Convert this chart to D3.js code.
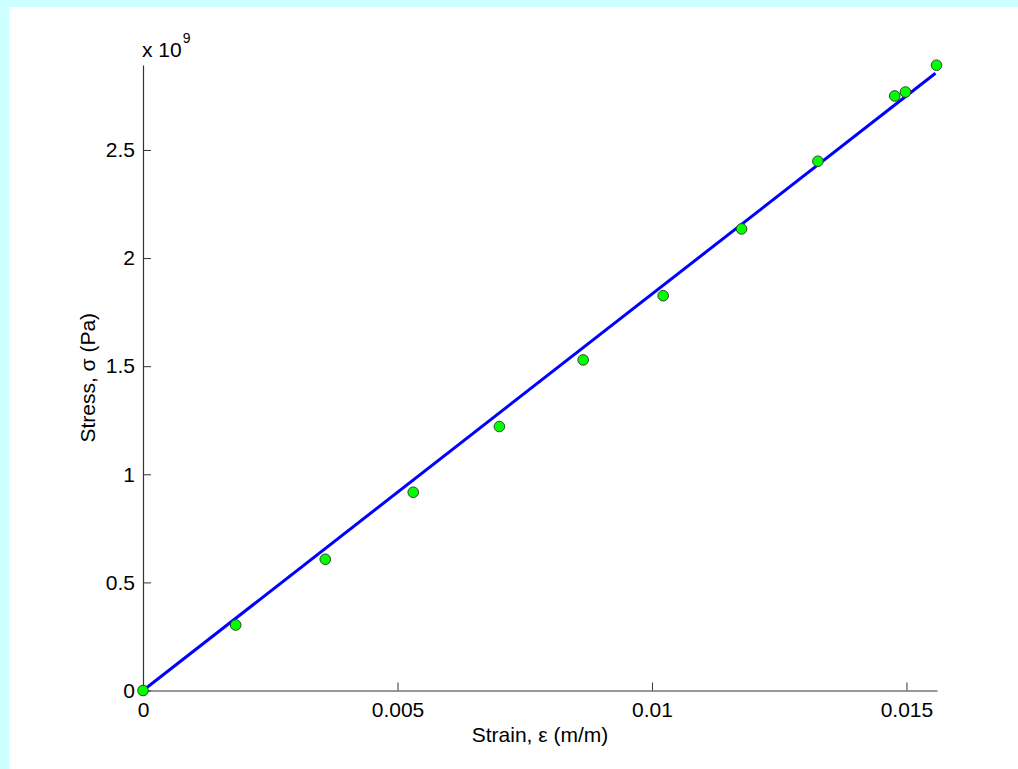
<!DOCTYPE html>
<html>
<head>
<meta charset="utf-8">
<script src="https://cdn.jsdelivr.net/npm/d3@7"></script>
<style>
  html, body { margin: 0; padding: 0; background: #ccffff; }
  svg { display: block; }
  text { font-family: "Liberation Sans", Arial, sans-serif; fill: #000; }
</style>
</head>
<body>
<svg id="chart" width="1018" height="769"></svg>
<script>
// Measured data (strain in m/m, stress in Pa)
const strain = [0, 0.001821, 0.003581, 0.005309, 0.007002, 0.008648, 0.01022, 0.01176, 0.01326, 0.01477, 0.01498, 0.01559];
const stress = [0, 0.303e9, 0.607e9, 0.917e9, 1.221e9, 1.529e9, 1.826e9, 2.135e9, 2.448e9, 2.750e9, 2.768e9, 2.892e9];
// Linear fit line endpoints
const fitStrain = [0, 0.01557];
const fitStress = [0, 2.855e9];
// Axis ticks
const xTicks = [0, 0.005, 0.01, 0.015];
const xTickLabels = ["0", "0.005", "0.01", "0.015"];
const yTicks = [0, 0.5e9, 1e9, 1.5e9, 2e9, 2.5e9];
const yTickLabels = ["0", "0.5", "1", "1.5", "2", "2.5"];
const xDomain = [0, 0.0156];
const yDomain = [0, 2.893e9];

const svg = d3.select("#chart");
svg.append("rect").attr("x", 0).attr("y", 0).attr("width", 1018).attr("height", 769).attr("fill", "#ccffff");
svg.append("rect").attr("x", 9).attr("y", 7).attr("width", 1009).attr("height", 762).attr("fill", "#ffffff");

const mLeft = 143, mRight = 937, mTop = 65, mBottom = 690.5;
const x = d3.scaleLinear().domain(xDomain).range([mLeft, mRight]);
const y = d3.scaleLinear().domain(yDomain).range([mBottom, mTop]);

const fs = 21;

// X axis
const xAxis = d3.axisBottom(x).tickValues(xTicks).tickSizeInner(-8).tickSizeOuter(0)
  .tickFormat((d, i) => xTickLabels[i]).tickPadding(11.5);
const gx = svg.append("g").attr("transform", `translate(0,${mBottom})`).call(xAxis);
gx.select(".domain").attr("stroke", "#333").attr("stroke-width", 1.2);
gx.selectAll(".tick line").attr("stroke", "#333");
gx.selectAll(".tick text").style("font-size", fs + "px").style("font-family", "Liberation Sans, Arial, sans-serif").attr("fill", "#000");

// Y axis
const yAxis = d3.axisLeft(y).tickValues(yTicks).tickSizeInner(-8).tickSizeOuter(0)
  .tickFormat((d, i) => yTickLabels[i]).tickPadding(8);
const gy = svg.append("g").attr("transform", `translate(${mLeft},0)`).call(yAxis);
gy.select(".domain").attr("stroke", "#333").attr("stroke-width", 1.2);
gy.selectAll(".tick line").attr("stroke", "#333");
gy.selectAll(".tick text").style("font-size", fs + "px").style("font-family", "Liberation Sans, Arial, sans-serif").attr("fill", "#000");

// Exponent label
const expo = svg.append("text").attr("x", 142).attr("y", 57).style("font-size", fs + "px");
expo.append("tspan").text("x 10");
expo.append("tspan").attr("dy", -14).attr("dx", 1).style("font-size", "14px").text("9");

// Axis titles
svg.append("text").attr("x", (mLeft + mRight) / 2).attr("y", 742).attr("text-anchor", "middle")
  .style("font-size", fs + "px").text("Strain, ε (m/m)");
svg.append("text").attr("transform", `translate(95,${(mTop + mBottom) / 2}) rotate(-90)`).attr("text-anchor", "middle")
  .style("font-size", fs + "px").text("Stress, σ (Pa)");

// Fit line
const fitData = fitStrain.map((s, i) => [s, fitStress[i]]);
svg.append("path").datum(fitData)
  .attr("d", d3.line().x(d => x(d[0])).y(d => y(d[1])))
  .attr("fill", "none").attr("stroke", "#0000ff").attr("stroke-width", 3);

// Data points
const pts = strain.map((s, i) => [s, stress[i]]);
svg.append("g").selectAll("circle").data(pts).join("circle")
  .attr("cx", d => x(d[0])).attr("cy", d => y(d[1])).attr("r", 5.3)
  .attr("fill", "#00ff00").attr("stroke", "#2a4a2a").attr("stroke-width", 1);
</script>
</body>
</html>
